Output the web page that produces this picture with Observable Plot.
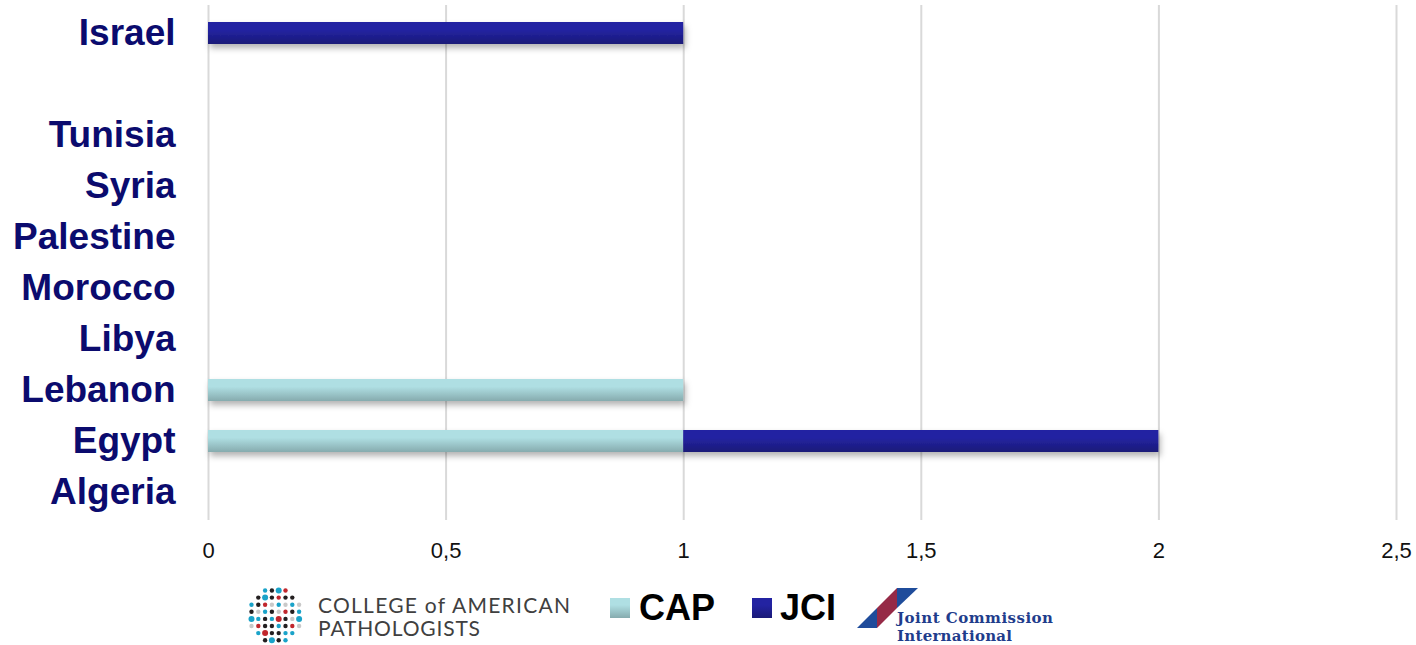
<!DOCTYPE html>
<html>
<head>
<meta charset="utf-8">
<script src="https://cdn.jsdelivr.net/npm/d3@7"></script>
<script src="https://cdn.jsdelivr.net/npm/@observablehq/plot@0.6"></script>
<style>
  html, body { margin: 0; padding: 0; background: #fff; overflow: hidden; }
  #chart svg { display: block; }
  #legend { display: block; }
</style>
</head>
<body>
<div id="chart"></div>
<svg id="legend" width="1416" height="75"></svg>
<script>
// Accreditations per country (top to bottom; the blank row separates Israel)
const countries = ["Israel", " ", "Tunisia", "Syria", "Palestine", "Morocco", "Libya", "Lebanon", "Egypt", "Algeria"];
const capValues = [0, 0, 0, 0, 0, 0, 0, 1, 1, 0];
const jciValues = [1, 0, 0, 0, 0, 0, 0, 0, 1, 0];
const seriesNames = ["CAP", "JCI"];
const xTicks = [0, 0.5, 1, 1.5, 2, 2.5];

const rows = [
  ...countries.map((c, i) => ({country: c, series: "CAP", value: capValues[i]})),
  ...countries.map((c, i) => ({country: c, series: "JCI", value: jciValues[i]}))
].filter(d => d.value > 0);

const plot = Plot.plot({
  width: 1416,
  height: 570,
  marginLeft: 208,
  marginRight: 20,
  marginTop: 5,
  marginBottom: 50,
  style: {fontFamily: "'Liberation Sans', Arial, sans-serif", background: "#fff"},
  x: {domain: [0, 2.5], ticks: xTicks, label: null},
  y: {domain: countries, paddingInner: 0.57, paddingOuter: 0.285, label: null},
  color: {domain: seriesNames, range: ["url(#gradCAP)", "url(#gradJCI)"]},
  marks: [
    Plot.ruleX(xTicks, {stroke: "#d9d9d9", strokeWidth: 2}),
    Plot.barX(rows, Plot.stackX({x: "value", y: "country", fill: "series"})),
    Plot.axisX({ticks: xTicks, tickSize: 0, tickPadding: 22, fontSize: 22, fill: "#111",
      tickFormat: d => String(d).replace(".", ","), label: null}),
    Plot.axisY({tickSize: 0, tickPadding: 33, fontSize: 37, fontWeight: "bold", fill: "#0b0b6e", label: null})
  ]
});
document.getElementById("chart").appendChild(plot);

// Gradients and soft shadow for the bars
const svg = d3.select(plot);
const defs = svg.insert("defs", ":first-child");
function addGradient(sel, id, top, bottom) {
  const g = sel.append("linearGradient").attr("id", id)
    .attr("x1", 0).attr("y1", 0).attr("x2", 0).attr("y2", 1);
  g.append("stop").attr("offset", "0%").attr("stop-color", top);
  g.append("stop").attr("offset", "35%").attr("stop-color", top);
  g.append("stop").attr("offset", "100%").attr("stop-color", bottom);
}
addGradient(defs, "gradCAP", "#afdfe3", "#86abae");
addGradient(defs, "gradJCI", "#2323a2", "#1a1a78");
const shadow = defs.append("filter").attr("id", "barShadow")
  .attr("x", "-5%").attr("y", "-30%").attr("width", "115%").attr("height", "190%");
shadow.append("feDropShadow").attr("dx", 2).attr("dy", 4).attr("stdDeviation", 3)
  .attr("flood-color", "#000").attr("flood-opacity", 0.3);
svg.selectAll("g[aria-label='bar']").attr("filter", "url(#barShadow)");

// Legend with the two accreditation logos
const leg = d3.select("#legend");
const ldefs = leg.append("defs");
addGradient(ldefs, "lgCAP", "#afdfe3", "#86abae");
addGradient(ldefs, "lgJCI", "#2323a2", "#1a1a78");

// College of American Pathologists mark: a round field of dots
const dotRows = ["..bkBr..", ".kBkrkk.", "bkrgbgbg", "kgbkgrkb", "BbkbRkgB", "grkkbkrg", ".bRkkbb.", "..kBkb.."];
const dotColors = {b: "#1aa3c9", r: "#c1272d", k: "#231f20", g: "#c9c9c9"};
const dots = leg.append("g");
dotRows.forEach((row, ri) => {
  [...row].forEach((ch, ci) => {
    if (ch === ".") return;
    const big = ch === ch.toUpperCase();
    dots.append("circle")
      .attr("cx", 251.5 + ci * 6.8)
      .attr("cy", 20.5 + ri * 7.1)
      .attr("r", big ? 3 : 2.2)
      .attr("fill", dotColors[ch.toLowerCase()]);
  });
});
leg.append("text").attr("x", 318).attr("y", 43).attr("textLength", 252)
  .attr("font-family", "Lato, 'Open Sans', sans-serif").attr("font-weight", 400)
  .attr("font-size", 21).attr("fill", "#404040").text("COLLEGE of AMERICAN");
leg.append("text").attr("x", 318).attr("y", 66).attr("textLength", 162)
  .attr("font-family", "Lato, 'Open Sans', sans-serif").attr("font-weight", 400)
  .attr("font-size", 21).attr("fill", "#404040").text("PATHOLOGISTS");

// Series swatches
leg.append("rect").attr("x", 610).attr("y", 28).attr("width", 20).attr("height", 20).attr("fill", "url(#lgCAP)");
leg.append("text").attr("x", 639).attr("y", 50)
  .attr("font-family", "'Liberation Sans', Arial, sans-serif").attr("font-weight", "bold")
  .attr("font-size", 36).attr("fill", "#000").text("CAP");
leg.append("rect").attr("x", 752).attr("y", 28).attr("width", 20).attr("height", 20).attr("fill", "url(#lgJCI)");
leg.append("text").attr("x", 780).attr("y", 50)
  .attr("font-family", "'Liberation Sans', Arial, sans-serif").attr("font-weight", "bold")
  .attr("font-size", 36).attr("fill", "#000").text("JCI");

// Joint Commission International mark
const jred = "#962a47", jblue = "#1f4c9b";
const tri = [
  {pts: [[877, 38], [897, 18], [897, 38]], fill: jred},
  {pts: [[897, 18], [918, 18], [897, 38]], fill: jblue},
  {pts: [[877, 38], [897, 38], [877, 58]], fill: jred},
  {pts: [[857, 58], [877, 38], [877, 58]], fill: jblue}
];
tri.forEach(t => leg.append("polygon").attr("points", t.pts.map(p => p.join(",")).join(" ")).attr("fill", t.fill));
leg.append("text").attr("x", 897).attr("y", 53).attr("textLength", 156)
  .attr("font-family", "'DejaVu Serif', 'Liberation Serif', serif").attr("font-weight", "bold")
  .attr("font-size", 15).attr("fill", "#1f3d8c").text("Joint Commission");
leg.append("text").attr("x", 897).attr("y", 70.8).attr("textLength", 115)
  .attr("font-family", "'DejaVu Serif', 'Liberation Serif', serif").attr("font-weight", "bold")
  .attr("font-size", 15).attr("fill", "#1f3d8c").text("International");
</script>
</body>
</html>
